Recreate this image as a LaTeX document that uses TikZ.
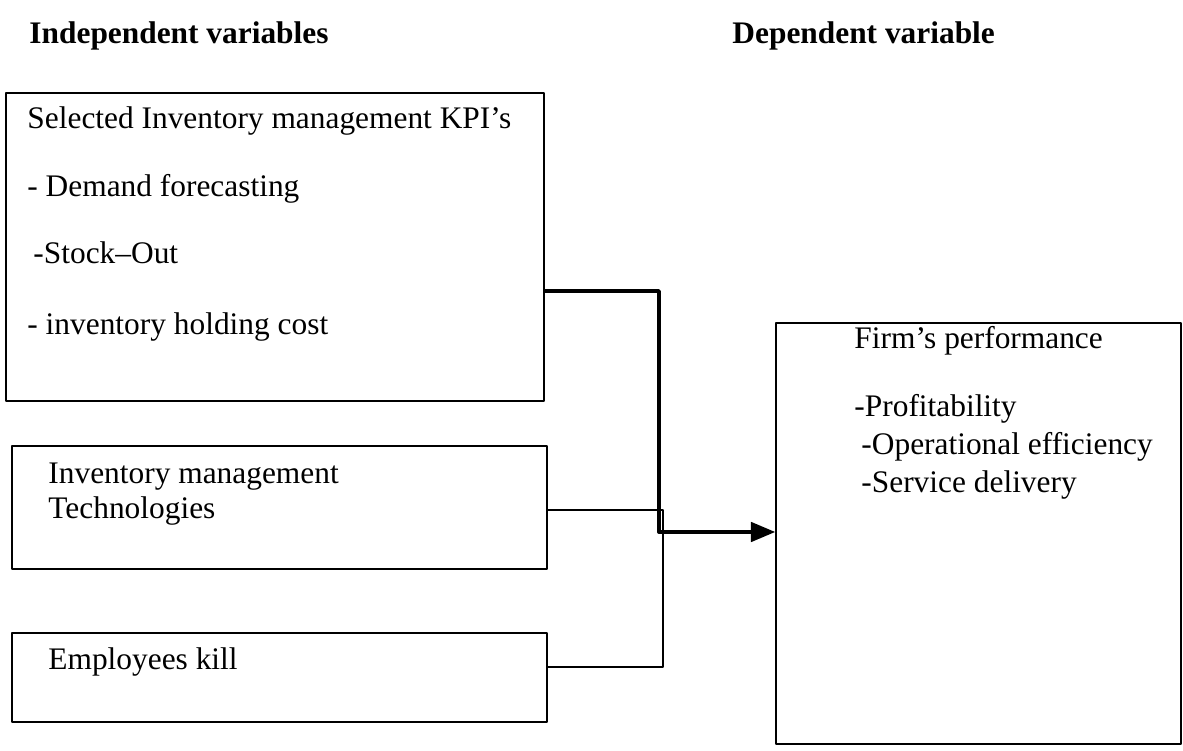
\documentclass[tikz,border=0pt]{standalone}
\usepackage{fontspec}
\setmainfont{Liberation Serif}
\usetikzlibrary{arrows}
\newdimen\px \px=0.446pt

\begin{document}
\begin{tikzpicture}[line cap=round,line join=round,>=triangle 45,x=0.446pt,y=-0.446pt]
    \tikzset{box/.style={draw=black,line width=0.9pt,anchor=north west,inner sep=0pt},
             txt/.style={anchor=base west,inner sep=0pt,font=\fontsize{14}{16}\selectfont},
             head/.style={anchor=base west,inner sep=0pt,font=\fontsize{14}{16}\selectfont\bfseries}}
    \useasboundingbox (0,0) rectangle (1183,751);
    % headings
    \node [head] (indephead) at (29,44) {Independent variables};
    \node [head] (dephead) at (732,44) {Dependent variable};
    % boxes
    \node [box,minimum width=538\px,minimum height=308\px] (kpibox) at (5,92) {};
    \node [box,minimum width=535\px,minimum height=123\px] (techbox) at (11,445) {};
    \node [box,minimum width=535\px,minimum height=89\px] (skillbox) at (11,632) {};
    \node [box,minimum width=405\px,minimum height=421\px] (perfbox) at (775,322) {};
    % box texts
    \node [txt] (kpititle) at (27,129) {Selected Inventory management KPI’s};
    \node [txt] (kpidemand) at (27,197) {- Demand forecasting};
    \node [txt] (kpistock) at (33,264) {-Stock–Out};
    \node [txt] (kpicost) at (27,335) {- inventory holding cost};
    \node [txt] (techone) at (48,484) {Inventory management};
    \node [txt] (techtwo) at (48,519) {Technologies};
    \node [txt] (skilltext) at (48,670) {Employees kill};
    \node [txt] (perftitle) at (854,349) {Firm’s performance};
    \node [txt] (perfprofit) at (854,417) {-Profitability};
    \node [txt] (perfeff) at (861,455) {-Operational efficiency};
    \node [txt] (perfserv) at (861,493) {-Service delivery};
    % connectors
    \coordinate (elbowA) at (659,291);
    \coordinate (elbowB) at (659,532);
    \coordinate (elbowC) at (663,510);
    \coordinate (elbowD) at (663,667);
    \draw [->,line width=1.5pt] (kpibox.east |- elbowA) -- (elbowA) -- (elbowB) -- (elbowB -| perfbox.west);
    \draw [line width=0.9pt] (techbox.east |- elbowC) -- (elbowC) -- (elbowD) -- (elbowD -| skillbox.east);
\end{tikzpicture}
\end{document}
